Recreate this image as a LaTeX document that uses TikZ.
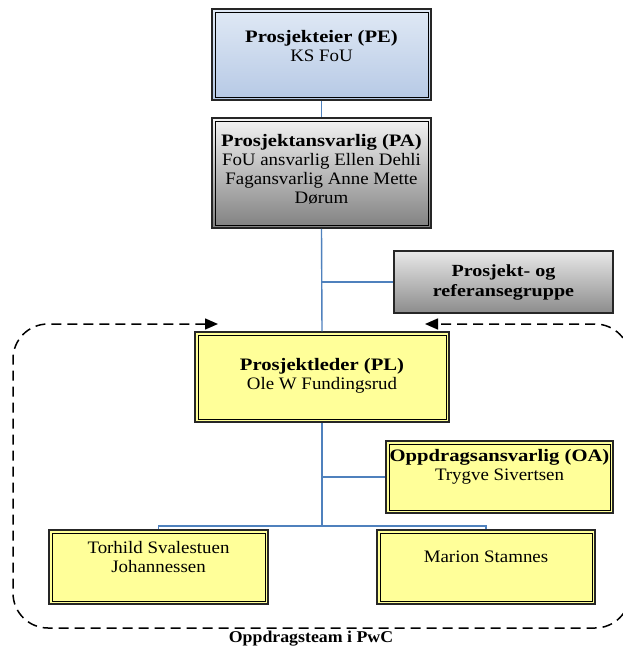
\documentclass[tikz,border=0pt]{standalone}
\usepackage{fontspec}
\setmainfont{Liberation Serif}
\newfontfamily\rmreg{Liberation Serif}[FakeStretch=1.08]
\newfontfamily\bfam{Liberation Serif}[FakeStretch=1.18]
\usetikzlibrary{arrows.meta}
\definecolor{connblue}{RGB}{79,129,189}
\definecolor{boxyellow}{RGB}{255,255,153}
\definecolor{petop}{RGB}{224,233,245}
\definecolor{pebot}{RGB}{182,201,229}
\definecolor{patop}{RGB}{244,244,244}
\definecolor{pabot}{RGB}{128,128,128}
\definecolor{grtop}{RGB}{232,232,232}
\definecolor{grbot}{RGB}{140,140,140}
\tikzset{
  conn/.style={draw=connblue, line width=1.4pt},
  dbox/.style={rectangle, draw=black!85, line width=1.5pt, inner sep=0pt,
    path picture={\draw[black, line width=1pt]
      ([shift={(3pt,-3pt)}]path picture bounding box.north west) rectangle
      ([shift={(-3pt,3pt)}]path picture bounding box.south east);}},
  ybox/.style={dbox, fill=boxyellow},
  gbox/.style={rectangle, draw=black!85, line width=1.3pt, inner sep=0pt, top color=grtop, bottom color=grbot},
  txt/.style={align=center, inner sep=0pt, font=\rmreg\fontsize{17.5}{19}\selectfont},
  btxt/.style={align=center, inner sep=0pt, font=\bfam\bfseries\fontsize{17}{20}\selectfont},
  foottxt/.style={align=center, inner sep=0pt, font=\rmreg\bfseries\fontsize{16.5}{19}\selectfont},
  dashline/.style={black, line width=1.5pt, dash pattern=on 10pt off 6pt},
}
\begin{document}
\begin{tikzpicture}[x=1pt,y=-1pt]
\useasboundingbox (0,0) rectangle (623,648);
\fill[white] (0,0) rectangle (623,648);

% dashed team frame
\coordinate (dl) at (218,324);
\coordinate (dr) at (425,324);
\draw[dashline, rounded corners=35pt, {Triangle[length=13pt,width=11pt]}-{Triangle[length=13pt,width=11pt]}]
  (dl) -- (13,324) -- (13,628) -- (630,628) -- (630,324) -- (dr);

% boxes
\node[dbox, top color=petop, bottom color=pebot, minimum width=219pt, minimum height=91pt] (pe) at (321.5,54.5) {};
\node[dbox, top color=patop, bottom color=pabot, minimum width=219pt, minimum height=110pt] (pa) at (321.5,173) {};
\node[gbox, minimum width=219pt, minimum height=62pt] (gr) at (503.5,282) {};
\node[ybox, minimum width=254pt, minimum height=90pt] (pl) at (322,377) {};
\node[ybox, minimum width=227pt, minimum height=72pt] (oa) at (499.5,477) {};
\node[ybox, minimum width=219pt, minimum height=74pt] (ts) at (158.5,567) {};
\node[ybox, minimum width=218pt, minimum height=74pt] (ms) at (486,567) {};

% texts
\node[txt] (pet) at (321.5,46) {{\bfam\bfseries Prosjekteier (PE)}\\KS FoU};
\node[txt] (pat) at (321.5,169) {{\bfam\bfseries Prosjektansvarlig (PA)}\\FoU ansvarlig Ellen Dehli\\Fagansvarlig Anne Mette\\Dørum};
\node[btxt] (grt) at (503.5,282) {Prosjekt- og\\referansegruppe};
\node[txt] (plt) at (322,376) {{\bfam\bfseries Prosjektleder (PL)}\\Ole W Fundingsrud};
\node[txt] (oat) at (499.5,467) {{\bfam\bfseries Oppdragsansvarlig (OA)}\\Trygve Sivertsen};
\node[txt] (tst) at (158.5,557) {Torhild Svalestuen\\Johannessen};
\node[txt] (mst) at (486,557) {Marion Stamnes};
\node[foottxt] (foot) at (311,639) {Oppdragsteam i PwC};

% connectors
\coordinate (bar) at (322,526);
\draw[conn] (pe.south) -- (pa.north);
\draw[conn] (pa.south) -- (pl.north);
\draw[conn] (pa.south |- gr.west) -- (gr.west);
\draw[conn] (pl.south) -- (bar);
\draw[conn] (pl.south |- oa.west) -- (oa.west);
\draw[conn] (ts.north) -- (ts.north |- bar) -- (ms.north |- bar) -- (ms.north);
\end{tikzpicture}
\end{document}
